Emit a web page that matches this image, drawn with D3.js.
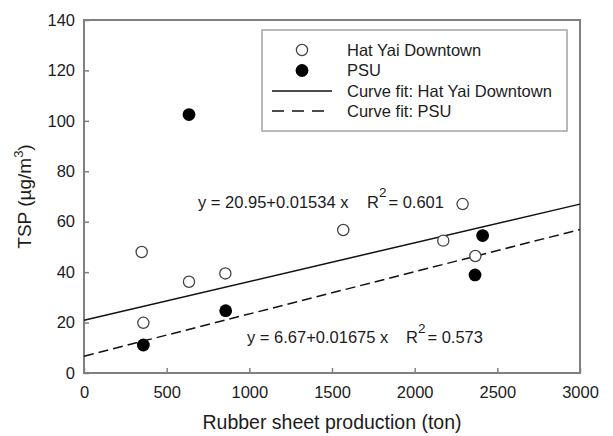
<!DOCTYPE html>
<html>
<head>
<meta charset="utf-8">
<script src="https://cdn.jsdelivr.net/npm/d3@7"></script>
<style>
  html, body { margin: 0; padding: 0; background: #fff; }
  svg { display: block; font-family: Arial, "Liberation Sans", sans-serif; }
</style>
</head>
<body>
<svg id="chart" width="613" height="436"></svg>
<script>
// Rubber sheet production (ton) vs. TSP (µg/m³) at two sites
const hatYaiX = [349, 359, 635, 855, 1568, 2173, 2290, 2367];
const hatYaiY = [48.0, 19.9, 36.2, 39.5, 56.7, 52.5, 67.0, 46.4];
const psuX = [359, 635, 857, 2365, 2411];
const psuY = [11.1, 102.5, 24.7, 38.9, 54.5];

// Linear fits: [intercept, slope, R²]
const fitHatYai = [20.95, 0.01534, 0.601];
const fitPSU = [6.67, 0.01675, 0.573];

const xTicks = [0, 500, 1000, 1500, 2000, 2500, 3000];
const yTicks = [0, 20, 40, 60, 80, 100, 120, 140];
const xDomain = [0, 3000];
const yDomain = [0, 140];

const legendLabels = ["Hat Yai Downtown", "PSU", "Curve fit: Hat Yai Downtown", "Curve fit: PSU"];

const svg = d3.select("#chart");
const m = { left: 84, right: 580, top: 20, bottom: 373 };
const x = d3.scaleLinear().domain(xDomain).range([m.left, m.right]);
const y = d3.scaleLinear().domain(yDomain).range([m.bottom, m.top]);

const textColor = "#1c1c1c";
const frameColor = "#808080";

// Axes with inward ticks
const gx = svg.append("g").attr("transform", `translate(0,${m.bottom})`)
  .call(d3.axisBottom(x).tickValues(xTicks).tickFormat(d3.format("d"))
    .tickSizeInner(-5).tickSizeOuter(0).tickPadding(13));
const gy = svg.append("g").attr("transform", `translate(${m.left},0)`)
  .call(d3.axisLeft(y).tickValues(yTicks).tickFormat(d3.format("d"))
    .tickSizeInner(-5).tickSizeOuter(0).tickPadding(9));
[gx, gy].forEach(g => {
  g.select(".domain").remove();
  g.selectAll(".tick line").attr("stroke", frameColor).attr("stroke-width", 1.5);
  g.selectAll(".tick text").attr("fill", textColor).style("font-size", "16.5px")
    .style("font-family", "Arial, 'Liberation Sans', sans-serif");
});

// Plot frame
svg.append("rect")
  .attr("x", m.left).attr("y", m.top)
  .attr("width", m.right - m.left).attr("height", m.bottom - m.top)
  .attr("fill", "none").attr("stroke", frameColor).attr("stroke-width", 2);

// Regression lines
const fitLine = f => [[xDomain[0], f[0] + f[1] * xDomain[0]], [xDomain[1], f[0] + f[1] * xDomain[1]]];
const line = d3.line().x(d => x(d[0])).y(d => y(d[1]));
svg.append("path").datum(fitLine(fitHatYai)).attr("d", line)
  .attr("fill", "none").attr("stroke", "#111").attr("stroke-width", 1.5);
svg.append("path").datum(fitLine(fitPSU)).attr("d", line)
  .attr("fill", "none").attr("stroke", "#111").attr("stroke-width", 1.5)
  .attr("stroke-dasharray", "10,5");

// Points
svg.append("g").selectAll("circle").data(d3.zip(hatYaiX, hatYaiY)).join("circle")
  .attr("cx", d => x(d[0])).attr("cy", d => y(d[1])).attr("r", 5.6)
  .attr("fill", "#fff").attr("stroke", "#444").attr("stroke-width", 1.3);
svg.append("g").selectAll("circle").data(d3.zip(psuX, psuY)).join("circle")
  .attr("cx", d => x(d[0])).attr("cy", d => y(d[1])).attr("r", 6.4)
  .attr("fill", "#000");

// Fit equations
function equation(f, x0, xR, yb) {
  const t = svg.append("text").attr("y", yb).attr("fill", textColor).style("font-size", "16.5px");
  t.append("tspan").attr("x", x0).text(`y = ${f[0]}+${f[1]} x`);
  t.append("tspan").attr("x", xR).text("R");
  t.append("tspan").attr("dy", -10.5).style("font-size", "13.5px").text("2");
  t.append("tspan").attr("dy", 10.5).attr("dx", 2).text(`= ${f[2]}`);
}
equation(fitHatYai, 198, 367, 207.5);
equation(fitPSU, 247, 406, 343);

// Axis titles
svg.append("text")
  .attr("x", (m.left + m.right) / 2).attr("y", 428.5)
  .attr("text-anchor", "middle").attr("fill", textColor).style("font-size", "19.5px")
  .text("Rubber sheet production (ton)");
const yt = svg.append("text")
  .attr("transform", `translate(31,${(m.top + m.bottom) / 2}) rotate(-90)`)
  .attr("text-anchor", "middle").attr("fill", textColor).style("font-size", "19px");
yt.append("tspan").text("TSP (µg/m");
yt.append("tspan").attr("dy", -8).style("font-size", "13px").text("3");
yt.append("tspan").attr("dy", 8).text(")");

// Legend
const lg = svg.append("g");
lg.append("rect").attr("x", 262).attr("y", 30).attr("width", 305).attr("height", 101)
  .attr("fill", "#fff").attr("stroke", "#a8a8a8").attr("stroke-width", 1.6);
const rowY = [50, 70.5, 91, 111];
lg.append("circle").attr("cx", 302).attr("cy", rowY[0]).attr("r", 5.6)
  .attr("fill", "#fff").attr("stroke", "#444").attr("stroke-width", 1.3);
lg.append("circle").attr("cx", 302).attr("cy", rowY[1]).attr("r", 6.4).attr("fill", "#000");
lg.append("line").attr("x1", 272).attr("x2", 332).attr("y1", rowY[2]).attr("y2", rowY[2])
  .attr("stroke", "#111").attr("stroke-width", 1.5);
lg.append("line").attr("x1", 272).attr("x2", 330).attr("y1", rowY[3]).attr("y2", rowY[3])
  .attr("stroke", "#111").attr("stroke-width", 1.5).attr("stroke-dasharray", "12,8");
lg.selectAll("text.lab").data(legendLabels).join("text").attr("class", "lab")
  .attr("x", 347).attr("y", (d, i) => rowY[i]).attr("dy", "0.35em")
  .attr("fill", textColor).style("font-size", "16.5px").text(d => d);
</script>
</body>
</html>
